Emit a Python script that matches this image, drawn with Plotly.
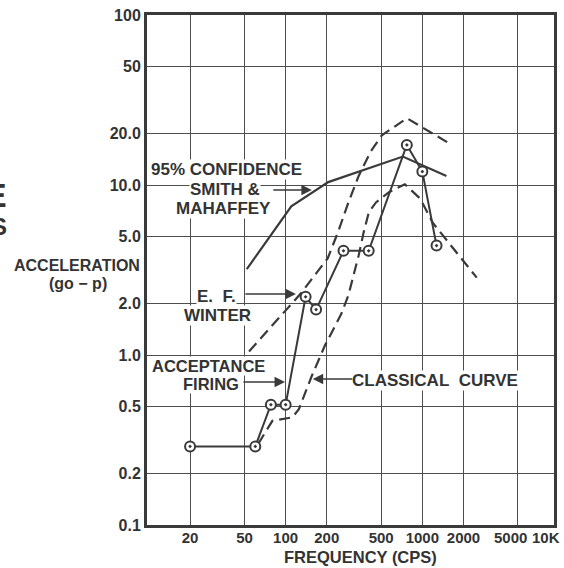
import plotly.graph_objects as go

# Acceptance firing test points (frequency in cps, acceleration in g 0-peak)
accept_freq = [20, 60, 78, 100, 140, 167, 265, 405, 770, 1000, 1270]
accept_g = [0.29, 0.29, 0.51, 0.51, 2.2, 1.85, 4.1, 4.1, 17.2, 12.0, 4.4]

# Smith & Mahaffey 95% confidence curve
smith_freq = [52, 110, 205, 720, 1500]
smith_g = [3.2, 7.5, 10.4, 14.7, 11.3]

# Upper dashed envelope
upper_freq = [54, 129, 203, 242, 288, 342, 420, 505, 771, 1550]
upper_g = [1.05, 2.3, 3.7, 5.3, 7.9, 11.3, 15.8, 19.6, 24.7, 17.7]

# Classical curve (dashed)
classical_freq = [63, 80, 112, 125, 155, 194, 255, 288, 342, 373, 406, 458,
                  574, 745, 966, 1190, 2500]
classical_g = [0.30, 0.41, 0.43, 0.48, 0.75, 1.14, 1.74, 2.25, 3.85, 5.3, 6.9,
               7.9, 9.1, 10.1, 8.3, 6.0, 2.85]

# Axis grid values and their labels
x_grid = [20, 50, 100, 200, 500, 1000, 2000, 5000]
x_labels = ["20", "50", "100", "200", "500", "1000", "2000", "5000"]
y_grid = [0.1, 0.2, 0.5, 1, 2, 5, 10, 20, 50, 100]
y_labels = ["0.1", "0.2", "0.5", "1.0", "2.0", "5.0", "10.0", "20.0", "50", "100"]

INK = "#3a3a3a"
TEXT = "#333333"
LABEL_FONT = "Liberation Sans, Arial, sans-serif"

W, H = 564, 568
ML, MR, MT, MB = 147, 7, 15, 43
PW, PH = W - ML - MR, H - MT - MB


def paper(px, py):
    """Figure pixel position -> paper coordinates."""
    return (px - ML) / PW, (H - MB - py) / PH


fig = go.Figure()

dash = "11px,6px"
fig.add_trace(go.Scatter(x=upper_freq, y=upper_g, mode="lines",
                         line=dict(color=INK, width=2.2, dash=dash),
                         hoverinfo="skip", showlegend=False))
fig.add_trace(go.Scatter(x=classical_freq, y=classical_g, mode="lines",
                         line=dict(color=INK, width=2.2, dash=dash),
                         hoverinfo="skip", showlegend=False))
fig.add_trace(go.Scatter(x=smith_freq, y=smith_g, mode="lines",
                         line=dict(color=INK, width=2.2),
                         hoverinfo="skip", showlegend=False))
fig.add_trace(go.Scatter(x=accept_freq, y=accept_g, mode="lines+markers",
                         line=dict(color=INK, width=2),
                         marker=dict(symbol="circle-dot", size=10, color="white",
                                     line=dict(color=INK, width=2)),
                         hoverinfo="skip", showlegend=False))

annotations = []


def label(text, px, py, size=17, anchor="center", bg="white"):
    x, y = paper(px, py)
    annotations.append(dict(
        text=f"<b>{text}</b>", x=x, y=y, xref="paper", yref="paper",
        xanchor=anchor, yanchor="middle", showarrow=False,
        font=dict(family=LABEL_FONT, size=size, color=TEXT),
        bgcolor=bg, borderpad=0))


def arrow(px, py, dx):
    x, y = paper(px, py)
    annotations.append(dict(
        text="", x=x, y=y, xref="paper", yref="paper", ax=dx, ay=0,
        showarrow=True, arrowhead=2, arrowsize=1.3, arrowwidth=1.6,
        arrowcolor=INK, standoff=0, startstandoff=0))


# Curve labels
label("95% CONFIDENCE", 227.5, 169.5)
label("SMITH &amp;", 226, 189)
label("MAHAFFEY", 224, 208)
label("E.&nbsp;&nbsp;F.", 217, 296)
label("WINTER", 218, 315)
label("ACCEPTANCE", 209, 366, size=16.5)
label("FIRING", 211, 384, size=16.5)
label("CLASSICAL&nbsp;&nbsp;CURVE", 437, 380)

arrow(313, 190, -40)
arrow(297, 294, -52)
arrow(286, 382, -43)
arrow(314, 379, 41)

# Axis titles
label("ACCELERATION", 76, 265, size=16, bg=None)
label("(go − p)", 77, 283, size=16, bg=None)
label("FREQUENCY (CPS)", 362, 557, size=16.5, bg=None)

# Right-hand x tick labels sit slightly left of their grid lines
for txt, px in [("5000", 513), ("10K", 549)]:
    x, y = paper(px, 537)
    annotations.append(dict(
        text=f"<b>{txt}</b>", x=x, y=y, xref="paper", yref="paper",
        xanchor="center", yanchor="middle", showarrow=False,
        font=dict(family=LABEL_FONT, size=15, color=TEXT)))

# Fragments of a margin heading cut off at the page edge
for txt, py, size in [("E", 195, 34), ("S", 227, 24)]:
    x, y = paper(8, py)
    annotations.append(dict(
        text=f"<b>{txt}</b>", x=x, y=y, xref="paper", yref="paper",
        xanchor="right", yanchor="middle", showarrow=False,
        font=dict(family=LABEL_FONT, size=size, color=TEXT)))

axis_common = dict(
    type="log", showgrid=True, gridcolor="#4d4d4d", gridwidth=1.4,
    showline=True, linecolor=INK, linewidth=3, mirror=True,
    ticks="", zeroline=False, tickangle=0,
)

fig.update_layout(
    width=W, height=H,
    margin=dict(l=ML, r=MR, t=MT, b=MB, pad=0),
    paper_bgcolor="white", plot_bgcolor="white",
    xaxis=dict(axis_common, range=[0.986, 3.963], tickvals=x_grid,
               ticktext=x_labels[:-1] + [""], ticklabelstandoff=-3,
               tickfont=dict(family=LABEL_FONT, size=15, color=TEXT, weight="bold")),
    yaxis=dict(axis_common, range=[-1, 2], tickvals=y_grid, ticktext=y_labels,
               ticklabelstandoff=0,
               tickfont=dict(family=LABEL_FONT, size=16, color=TEXT, weight="bold")),
    annotations=annotations,
)

fig.write_html("out.html")
